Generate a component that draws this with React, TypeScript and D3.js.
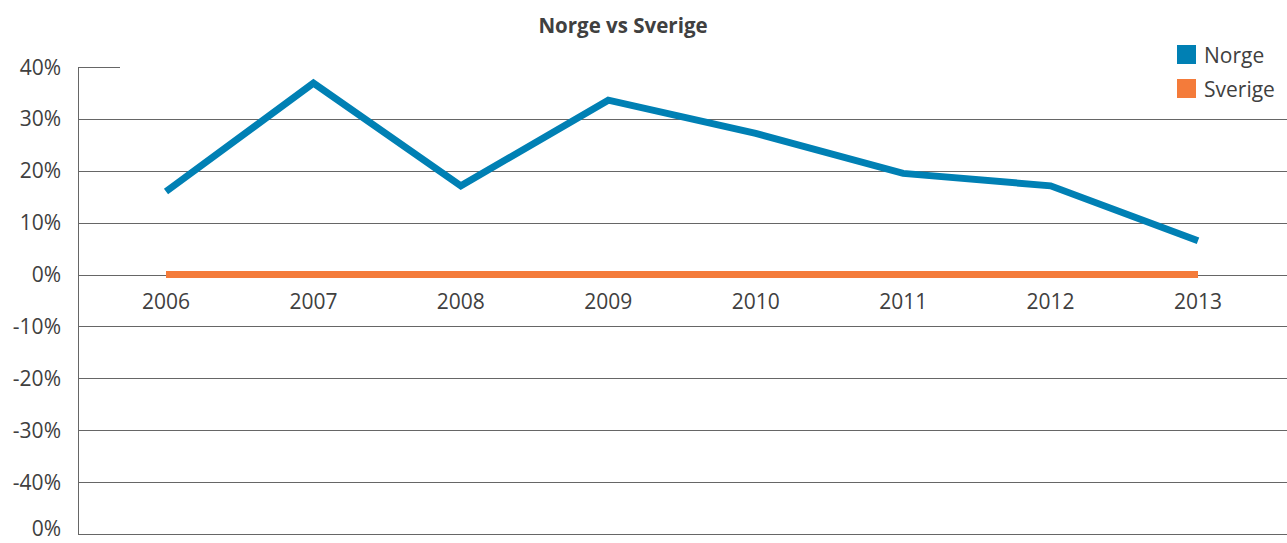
import { useEffect, useRef } from 'react';
import * as d3 from 'd3';

const years = ['2006', '2007', '2008', '2009', '2010', '2011', '2012', '2013'];
const norge = [16.0, 36.9, 17.1, 33.6, 27.2, 19.5, 17.1, 6.5];
const sverige = [0, 0, 0, 0, 0, 0, 0, 0];
const yTicks = [40, 30, 20, 10, 0, -10, -20, -30, -40, -50];
// the original axis prints the bottom tick as "0%"
const yTickLabels = ['40%', '30%', '20%', '10%', '0%', '-10%', '-20%', '-30%', '-40%', '0%'];
const seriesNames = ['Norge', 'Sverige'];

const W = 1287;
const H = 543;
const BLUE = '#0080b4';
const ORANGE = '#f47b3a';
const TEXT = '#404040';
const GRID = '#666666';
const FONT = '"Open Sans", "Noto Sans", sans-serif';

export default function App() {
  const svgRef = useRef<SVGSVGElement>(null);

  useEffect(() => {
    const svg = d3.select(svgRef.current);
    svg.selectAll('*').remove();

    const axisX = 78;
    const x = d3.scalePoint<string>().domain(years).range([166, 1198]);
    const y = d3.scaleLinear().domain([-50, 40]).range([534, 67]);

    svg
      .append('text')
      .attr('x', 623)
      .attr('y', 33)
      .attr('text-anchor', 'middle')
      .attr('font-family', FONT)
      .attr('font-weight', 700)
      .attr('font-size', 20.5)
      .attr('fill', TEXT)
      .text('Norge vs Sverige');

    // gridlines
    const grid = svg.append('g');
    grid
      .selectAll('line')
      .data(yTicks)
      .enter()
      .append('line')
      .attr('x1', axisX)
      .attr('x2', (d) => (d === 40 ? 120 : W))
      .attr('y1', (d) => Math.round(y(d)) + 0.5)
      .attr('y2', (d) => Math.round(y(d)) + 0.5)
      .attr('stroke', GRID)
      .attr('stroke-width', 1);
    grid
      .append('line')
      .attr('x1', axisX + 0.5)
      .attr('x2', axisX + 0.5)
      .attr('y1', y(40))
      .attr('y2', y(-50) + 1)
      .attr('stroke', GRID)
      .attr('stroke-width', 1);

    // bottom label nudged up so it stays inside the picture
    svg
      .append('g')
      .selectAll('text')
      .data(yTicks)
      .enter()
      .append('text')
      .attr('x', 61)
      .attr('y', (d) => (d === -50 ? y(d) - 6 : y(d)))
      .attr('dy', '0.36em')
      .attr('text-anchor', 'end')
      .attr('font-family', FONT)
      .attr('font-size', 21)
      .attr('fill', TEXT)
      .text((_d, i) => yTickLabels[i]);

    svg
      .append('g')
      .selectAll('text')
      .data(years)
      .enter()
      .append('text')
      .attr('x', (d) => x(d) ?? 0)
      .attr('y', 301)
      .attr('dy', '0.36em')
      .attr('text-anchor', 'middle')
      .attr('font-family', FONT)
      .attr('font-size', 21)
      .attr('fill', TEXT)
      .text((d) => d);

    const line = d3
      .line<number>()
      .x((_d, i) => x(years[i]) ?? 0)
      .y((d) => y(d));

    svg
      .append('path')
      .attr('d', line(sverige) ?? '')
      .attr('fill', 'none')
      .attr('stroke', ORANGE)
      .attr('stroke-width', 7);

    svg
      .append('path')
      .attr('d', line(norge) ?? '')
      .attr('fill', 'none')
      .attr('stroke', BLUE)
      .attr('stroke-width', 7)
      .attr('stroke-linejoin', 'miter');

    const legend = svg.append('g');
    const colors = [BLUE, ORANGE];
    seriesNames.forEach((name, i) => {
      const ly = 45 + i * 34;
      legend
        .append('rect')
        .attr('x', 1177)
        .attr('y', ly)
        .attr('width', 19)
        .attr('height', 19)
        .attr('fill', colors[i]);
      legend
        .append('text')
        .attr('x', 1204)
        .attr('y', ly + 10)
        .attr('dy', '0.36em')
        .attr('font-family', FONT)
        .attr('font-size', 21)
        .attr('fill', TEXT)
        .text(name);
    });
  }, []);

  return (
    <svg
      ref={svgRef}
      width={W}
      height={H}
      viewBox={`0 0 ${W} ${H}`}
      style={{ position: 'absolute', left: 0, top: 0, background: '#fff' }}
    />
  );
}
